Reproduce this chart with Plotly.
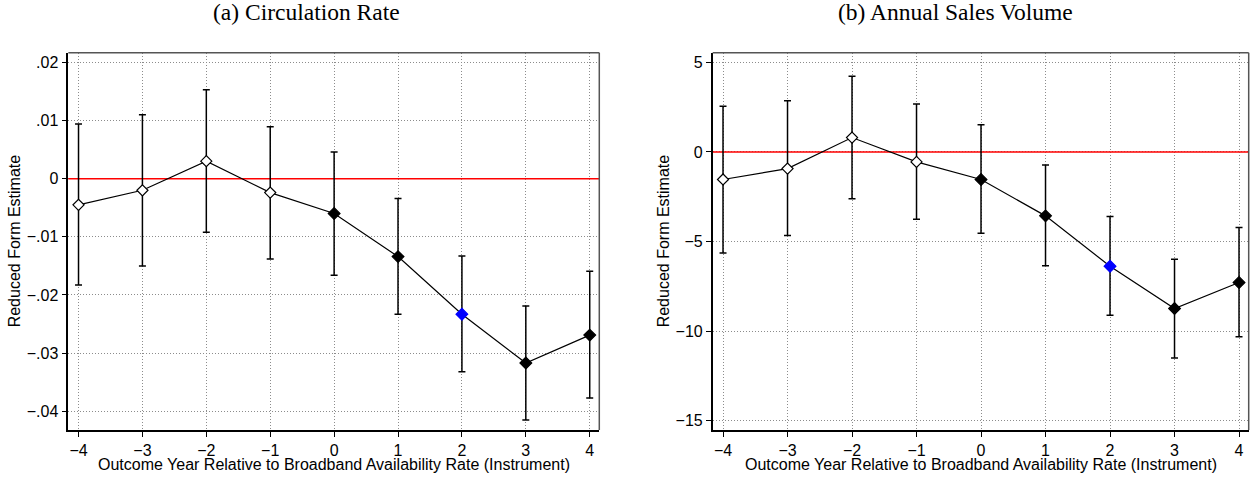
import plotly.graph_objects as go

years = [-4, -3, -2, -1, 0, 1, 2, 3, 4]

# (a) Circulation Rate
circ_est = [-0.0045, -0.0020, 0.0030, -0.0024, -0.0060, -0.0134, -0.0233, -0.0317, -0.0269]
circ_hi = [0.0094, 0.0110, 0.0153, 0.0089, 0.0046, -0.0034, -0.0133, -0.0219, -0.0159]
circ_lo = [-0.0183, -0.0150, -0.0092, -0.0138, -0.0166, -0.0233, -0.0332, -0.0415, -0.0377]

# (b) Annual Sales Volume
sales_est = [-1.54, -0.93, 0.80, -0.56, -1.54, -3.57, -6.38, -8.74, -7.29]
sales_hi = [2.55, 2.85, 4.22, 2.68, 1.51, -0.73, -3.61, -5.99, -4.22]
sales_lo = [-5.64, -4.66, -2.62, -3.76, -4.54, -6.36, -9.11, -11.50, -10.32]

# marker style per year: hollow (pre), filled (post), highlighted
marker_kind = ["hollow", "hollow", "hollow", "hollow", "filled", "filled", "blue", "filled", "filled"]

circ_ticks = [0.02, 0.01, 0, -0.01, -0.02, -0.03, -0.04]
circ_ticklabels = [".02", ".01", "0", "\u2212.01", "\u2212.02", "\u2212.03", "\u2212.04"]
sales_ticks = [5, 0, -5, -10, -15]
sales_ticklabels = ["5", "0", "\u22125", "\u221210", "\u221215"]
x_ticklabels = ["\u22124", "\u22123", "\u22122", "\u22121", "0", "1", "2", "3", "4"]

titles = ["(a) Circulation Rate", "(b) Annual Sales Volume"]
xtitle = "Outcome Year Relative to Broadband Availability Rate (Instrument)"
ytitle = "Reduced Form Estimate"

W, H = 1254, 480


def fx(px):
    return px / W


def fy(py):
    return 1 - py / H


fig = go.Figure()

panels = [
    dict(est=circ_est, hi=circ_hi, lo=circ_lo, ticks=circ_ticks, labels=circ_ticklabels,
         yrange=[-0.04321, 0.02165], px=(68.3, 599.3), ytx=14, xa="x", ya="y"),
    dict(est=sales_est, hi=sales_hi, lo=sales_lo, ticks=sales_ticks, labels=sales_ticklabels,
         yrange=[-15.52, 5.536], px=(712.7, 1248.7), ytx=663, xa="x2", ya="y2"),
]
top_px, bot_px = 52.7, 430.0
ydom = [fy(bot_px), fy(top_px)]
font_sans = "Liberation Sans, Arial, sans-serif"
font_serif = "Liberation Serif, Times New Roman, serif"
SANS = 16

for i, p in enumerate(panels):
    est, hi, lo = p["est"], p["hi"], p["lo"]
    # zero reference line
    fig.add_trace(go.Scatter(x=[-4.2, 4.2], y=[0, 0], mode="lines",
                             line=dict(color="#ff0000", width=1.5),
                             xaxis=p["xa"], yaxis=p["ya"], hoverinfo="skip", showlegend=False))
    # line + error bars
    fig.add_trace(go.Scatter(
        x=years, y=est, mode="lines",
        line=dict(color="black", width=1.2),
        error_y=dict(type="data", symmetric=False,
                     array=[h - e for h, e in zip(hi, est)],
                     arrayminus=[e - l for e, l in zip(est, lo)],
                     color="black", thickness=1.5, width=3.5),
        xaxis=p["xa"], yaxis=p["ya"], showlegend=False))
    for kind, fill, col, sz in [("hollow", "white", "black", 8.5), ("filled", "black", "black", 9),
                                ("blue", "#0000ff", "#0000ff", 9)]:
        xs = [x for x, k in zip(years, marker_kind) if k == kind]
        ys = [y for y, k in zip(est, marker_kind) if k == kind]
        fig.add_trace(go.Scatter(
            x=xs, y=ys, mode="markers",
            marker=dict(symbol="diamond", size=sz, color=fill,
                        line=dict(color=col, width=1.2)),
            xaxis=p["xa"], yaxis=p["ya"], showlegend=False))

    x0, x1 = p["px"]
    axname = "xaxis" if i == 0 else "xaxis2"
    ayname = "yaxis" if i == 0 else "yaxis2"
    common = dict(ticks="outside", ticklen=5, tickwidth=1.2, tickcolor="black",
                  showline=True, linecolor="black", linewidth=1.5, mirror=False,
                  showgrid=True, gridcolor="#8c8c8c", griddash="1px,2px", gridwidth=1,
                  zeroline=False, tickfont=dict(family=font_sans, size=SANS, color="black"))
    fig.layout[axname] = dict(domain=[fx(x0), fx(x1)], range=[-4.16, 4.15], anchor=p["ya"],
                              tickvals=years, ticktext=x_ticklabels, **common)
    fig.layout[ayname] = dict(domain=ydom, range=p["yrange"], anchor=p["xa"],
                              tickvals=p["ticks"], ticktext=p["labels"], **common)
    # top/right frame
    fig.add_shape(type="line", xref="paper", yref="paper",
                  x0=fx(x0), x1=fx(x1), y0=ydom[1], y1=ydom[1],
                  line=dict(color="#555555", width=1.5))
    fig.add_shape(type="line", xref="paper", yref="paper",
                  x0=fx(x1), x1=fx(x1), y0=ydom[0], y1=ydom[1],
                  line=dict(color="#555555", width=1.5))
    # axis titles
    fig.add_annotation(text=xtitle, xref="paper", yref="paper",
                       x=fx((x0 + x1) / 2), y=fy(464), xanchor="center", yanchor="middle",
                       showarrow=False,
                       font=dict(family=font_sans, size=SANS, color="black"))
    fig.add_annotation(text=ytitle, xref="paper", yref="paper",
                       x=fx(p["ytx"]), y=fy((top_px + bot_px) / 2), textangle=-90,
                       xanchor="center", yanchor="middle", showarrow=False,
                       font=dict(family=font_sans, size=SANS, color="black"))

title_x = [306, 955]
for t, tx in zip(titles, title_x):
    fig.add_annotation(text=t, xref="paper", yref="paper", x=fx(tx), y=fy(12),
                       xanchor="center", yanchor="middle",
                       showarrow=False, font=dict(family=font_serif, size=23.5, color="black"))

fig.update_layout(width=W, height=H, margin=dict(l=0, r=0, t=0, b=0),
                  paper_bgcolor="white", plot_bgcolor="white")
fig.write_html("out.html", config={"displayModeBar": False},
               post_script="document.body.style.margin='0px';document.body.style.overflow='hidden';")
